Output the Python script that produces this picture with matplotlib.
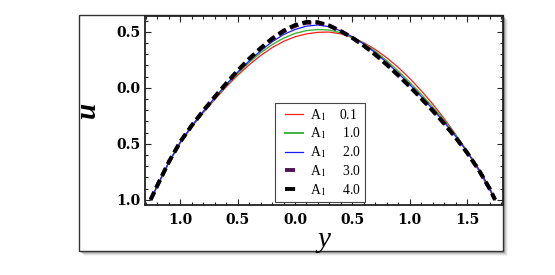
import numpy as np
import matplotlib
matplotlib.use('Agg')
import matplotlib.pyplot as plt
from matplotlib.patches import Rectangle
from matplotlib.lines import Line2D
from matplotlib.legend_handler import HandlerLine2D
from matplotlib.ticker import MultipleLocator

# values
y_vals = [-1.26, -1.2, -1.1, -1.0, -0.9, -0.8, -0.7, -0.6, -0.5, -0.4, -0.3, -0.2, -0.1, 0.0,
          0.1, 0.2, 0.3, 0.4, 0.5, 0.6, 0.7, 0.8, 0.9, 1.0, 1.1, 1.2, 1.3, 1.4, 1.5, 1.6, 1.7, 1.745]

u_01 = [-1.000, -0.874, -0.668, -0.492, -0.348, -0.223, -0.105, 0.008, 0.112, 0.205, 0.288, 0.358,
        0.414, 0.455, 0.481, 0.495, 0.497, 0.481, 0.448, 0.402, 0.342, 0.268, 0.182, 0.084,
        -0.025, -0.144, -0.274, -0.415, -0.568, -0.735, -0.916, -1.000]
u_10 = [-1.000, -0.872, -0.665, -0.487, -0.342, -0.216, -0.096, 0.020, 0.128, 0.226, 0.312, 0.385,
        0.443, 0.485, 0.510, 0.520, 0.515, 0.490, 0.450, 0.395, 0.325, 0.242, 0.150, 0.050,
        -0.057, -0.170, -0.290, -0.418, -0.565, -0.723, -0.905, -1.000]
u_20 = [-1.000, -0.870, -0.662, -0.483, -0.338, -0.210, -0.088, 0.030, 0.140, 0.240, 0.330, 0.410,
        0.475, 0.520, 0.550, 0.560, 0.545, 0.507, 0.455, 0.390, 0.313, 0.225, 0.130, 0.030,
        -0.077, -0.190, -0.307, -0.433, -0.570, -0.722, -0.903, -1.000]
u_30 = [-1.000, -0.869, -0.660, -0.481, -0.336, -0.206, -0.082, 0.037, 0.151, 0.255, 0.349, 0.433,
        0.502, 0.552, 0.580, 0.580, 0.552, 0.505, 0.447, 0.378, 0.299, 0.209, 0.115, 0.015,
        -0.090, -0.200, -0.316, -0.441, -0.577, -0.728, -0.904, -1.000]
u_40 = [-1.000, -0.870, -0.660, -0.480, -0.335, -0.205, -0.080, 0.040, 0.155, 0.260, 0.355, 0.440,
        0.510, 0.560, 0.588, 0.585, 0.555, 0.505, 0.445, 0.375, 0.295, 0.205, 0.110, 0.010,
        -0.095, -0.205, -0.320, -0.445, -0.580, -0.730, -0.905, -1.000]

labels = ['A$_1$    0.1', 'A$_1$     1.0', 'A$_1$     2.0', 'A$_1$     3.0', 'A$_1$     4.0']
colors = ['#ff1a1a', '#3cb43c', '#1a1aff', '#4d1552', 'black']

x_ticks = [-1.0, -0.5, 0.0, 0.5, 1.0, 1.5]
x_ticklabels = ['1.0', '0.5', '0.0', '0.5', '1.0', '1.5']
u_ticks = [0.5, 0.0, -0.5, -1.0]
u_ticklabels = ['0.5', '0.0', '0.5', '1.0']

plt.rcParams['font.family'] = ['Liberation Serif', 'DejaVu Serif']
plt.rcParams['mathtext.fontset'] = 'stix'

W, H = 555, 275
fig = plt.figure(figsize=(W / 100, H / 100), dpi=100)

# outer frame with a soft shadow
for off, al in [(5, 0.08), (4, 0.15), (3, 0.25), (2, 0.35)]:
    fig.patches.append(Rectangle(((79 + off) / W, (24 - off) / H), 424 / W, 236 / H,
                                 transform=fig.transFigure, figure=fig,
                                 facecolor='#777777', edgecolor='none', alpha=al, zorder=-3))
fig.patches.append(Rectangle((79 / W, 24 / H), 424 / W, 236 / H, transform=fig.transFigure,
                             figure=fig, facecolor='white', edgecolor='#333333', lw=1.0, zorder=-2))

ax = fig.add_axes([145 / W, 1 - 205 / H, 357.5 / W, 189.5 / H])
ax.set_facecolor('white')

ax.plot(y_vals, u_01, color=colors[0], lw=0.9)
ax.plot(y_vals, u_10, color=colors[1], lw=1.0)
ax.plot(y_vals, u_20, color=colors[2], lw=0.9)
ax.plot(y_vals, u_30, color=colors[3], lw=2.8, dashes=(2.2, 1.2), dash_capstyle='butt')
ax.plot(y_vals, u_40, color=colors[4], lw=2.8, dashes=(2.2, 1.2), dash_capstyle='butt')

ax.set_xlim(-1.309, 1.81)
ax.set_ylim(-1.047, 0.645)

ax.set_xticks(x_ticks)
ax.set_xticklabels(x_ticklabels, fontsize=10, fontweight='bold', family='DejaVu Serif')
ax.set_yticks(u_ticks)
ax.set_yticklabels(u_ticklabels, fontsize=10, fontweight='bold', family='DejaVu Serif')
ax.xaxis.set_minor_locator(MultipleLocator(0.1))
ax.yaxis.set_minor_locator(MultipleLocator(0.1))
ax.tick_params(which='both', direction='in', top=True, right=True, width=0.8, colors='#222222')
ax.tick_params(which='major', length=4.5)
ax.tick_params(which='minor', length=2.5)
ax.tick_params(axis='x', pad=6, labelcolor='black')
ax.tick_params(axis='y', pad=3, labelcolor='black')
for sp in ax.spines.values():
    sp.set_linewidth(1.3)
    sp.set_color('#222222')

ax.set_xlabel('y', fontsize=21, fontstyle='italic')
ax.xaxis.set_label_coords(0.5, -0.118)
ax.set_ylabel('u', fontsize=21, fontstyle='italic', fontweight='bold')
ax.yaxis.set_label_coords(-0.122, 0.5)

handles = [Line2D([], [], color=colors[0], lw=0.9),
           Line2D([], [], color=colors[1], lw=1.4),
           Line2D([], [], color=colors[2], lw=0.9),
           Line2D([], [], color=colors[3], lw=2.8, dashes=(2.6, 2.5), dash_capstyle='butt'),
           Line2D([], [], color=colors[4], lw=2.8, dashes=(2.6, 2.5), dash_capstyle='butt')]
leg = ax.legend(handles, labels, loc='upper left', bbox_to_anchor=(275 / W, 1 - 102.7 / H),
                bbox_transform=fig.transFigure, borderaxespad=0, fontsize=9.8, handlelength=1.76,
                handletextpad=0.5, borderpad=0.3, labelspacing=0.22, fancybox=False,
                framealpha=1, edgecolor='#444444',
                handler_map={Line2D: HandlerLine2D(xpad=0.44)})
leg.get_frame().set_linewidth(0.8)

fig.savefig('out.png', dpi=100)
